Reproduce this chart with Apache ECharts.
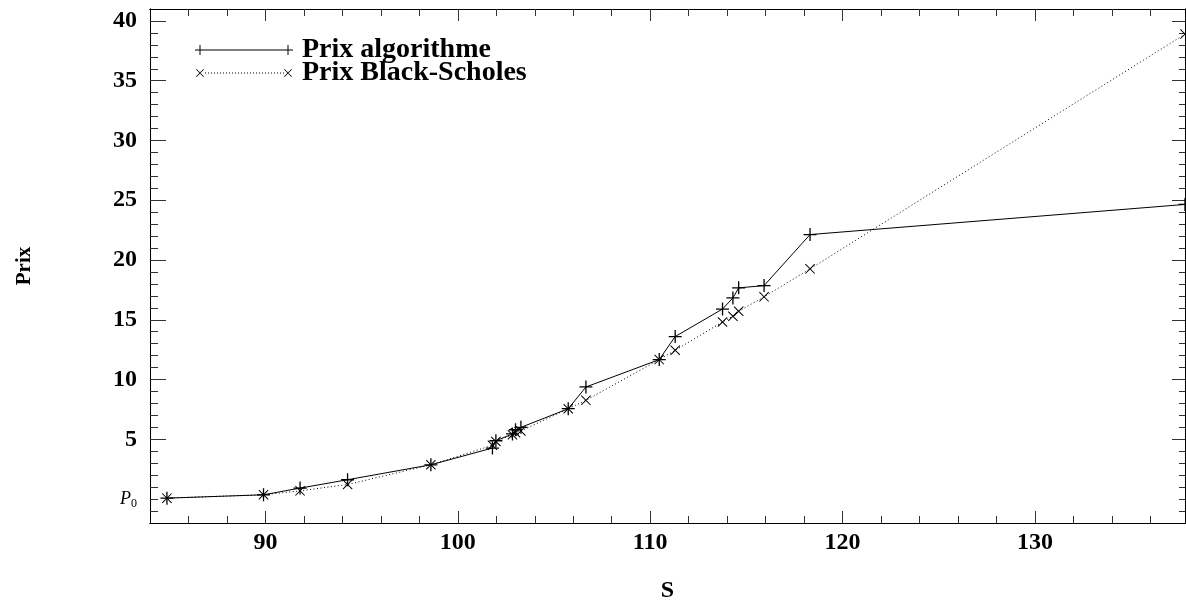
<!DOCTYPE html>
<html>
<head>
<meta charset="utf-8">
<script src="https://cdn.jsdelivr.net/npm/echarts@6/dist/echarts.min.js"></script>
<style>
html,body{margin:0;padding:0;background:#fff;}
#chart{width:1186px;height:602px;}
</style>
</head>
<body>
<div id="chart"></div>
<script>
// ---- data ----
var sValues = [84.88, 89.9, 91.8, 94.27, 98.6, 101.8, 101.98, 102.84, 103.0, 103.28, 105.74, 106.66, 110.47, 111.3, 113.76, 114.3, 114.6, 115.92, 118.31, 137.8];
var prixAlgorithme = [0.08, 0.36, 0.92, 1.62, 2.87, 4.27, 4.88, 5.45, 5.8, 6.0, 7.56, 9.38, 11.67, 13.6, 15.9, 16.83, 17.67, 17.86, 22.13, 24.65];
var prixBlackScholes = [0.08, 0.36, 0.69, 1.22, 2.87, 4.5, 4.82, 5.38, 5.55, 5.7, 7.56, 8.26, 11.67, 12.45, 14.82, 15.3, 15.71, 16.92, 19.26, 38.9];
var seriesNames = ['Prix algorithme', 'Prix Black-Scholes'];
var xMajorTicks = [90, 100, 110, 120, 130];
var xMinorTicks = [86, 88, 92, 94, 96, 98, 102, 104, 106, 108, 112, 114, 116, 118, 122, 124, 126, 128, 132, 134, 136];
var yMajorTicks = [5, 10, 15, 20, 25, 30, 35, 40];
var yLabelTicks = [0, 5, 10, 15, 20, 25, 30, 35, 40];
var yMinorTicks = [-1, 0, 1, 2, 3, 4, 6, 7, 8, 9, 11, 12, 13, 14, 16, 17, 18, 19, 21, 22, 23, 24, 26, 27, 28, 29, 31, 32, 33, 34, 36, 37, 38, 39];
var xName = 'S';
var yName = 'Prix';
var xMin = 84, xMax = 137.8, yMin = -2, yMax = 41;

function zip(a, b) { return a.map(function (v, i) { return [v, b[i]]; }); }

var FONT = 'Liberation Serif';
var plusPath = 'path://M0 4.5H10V5.5H0Z M4.5 0H5.5V10H4.5Z';
var crossPath = 'path://M0.7 0L10 9.3L9.3 10L0 0.7Z M9.3 0L10 0.7L0.7 10L0 9.3Z';

// legend icons (line with a marker at each end)
var legendIcon1 = 'path://M5 4.5H93V5.5H5Z M0 4.5H10V5.5H0Z M4.5 0H5.5V10H4.5Z M88 4.5H98V5.5H88Z M92.5 0H93.5V10H92.5Z';
var dots = '';
for (var d = 10; d < 89; d += 3) { dots += ' M' + d + ' 4.5H' + (d + 1) + 'V5.5H' + d + 'Z'; }
var legendIcon2 = 'path://M1 1.6L1.6 1L9 8.4L8.4 9Z M8.4 1L9 1.6L1.6 9L1 8.4Z M89 1.6L89.6 1L97 8.4L96.4 9Z M96.4 1L97 1.6L89.6 9L89 8.4Z M0 0H0.01V0.01H0Z M97.99 9.99H98V10H97.99Z' + dots;

var tickColor = '#333';
function xAxisDef(pos, ticks, len, labels) {
  return {
    type: 'value', position: pos, min: xMin, max: xMax,
    axisLine: { show: true, onZero: false, lineStyle: { color: '#000', width: 1 } },
    axisTick: { show: true, inside: true, length: len, customValues: ticks, lineStyle: { color: tickColor, width: 1 } },
    axisLabel: labels ? { show: true, customValues: xMajorTicks, margin: 8, color: '#000', fontFamily: FONT, fontWeight: 'bold', fontSize: 24 } : { show: false },
    splitLine: { show: false },
    name: labels ? xName : '', nameLocation: 'middle', nameGap: 56,
    nameTextStyle: { color: '#000', fontFamily: FONT, fontWeight: 'bold', fontSize: 24 }
  };
}
function yAxisDef(pos, ticks, len, labels) {
  return {
    type: 'value', position: pos, min: yMin, max: yMax,
    axisLine: { show: true, onZero: false, lineStyle: { color: '#000', width: 1 } },
    axisTick: { show: true, inside: true, length: len, customValues: ticks, lineStyle: { color: tickColor, width: 1 } },
    axisLabel: labels ? {
      show: true, customValues: yLabelTicks, margin: 13, color: '#000', fontFamily: FONT, fontWeight: 'bold', fontSize: 24,
      formatter: function (v) { return v === 0 ? '{p|P}{s|0}' : String(v); },
      rich: {
        p: { fontFamily: FONT, fontStyle: 'italic', fontWeight: 'normal', fontSize: 18, color: '#000' },
        s: { fontFamily: FONT, fontWeight: 'normal', fontSize: 12, color: '#000', padding: [9, 0, 0, 0] }
      }
    } : { show: false },
    splitLine: { show: false },
    name: labels ? yName : '', nameLocation: 'middle', nameGap: 115, nameRotate: 90,
    nameTextStyle: { color: '#000', fontFamily: FONT, fontWeight: 'bold', fontSize: 21 }
  };
}

var chart = echarts.init(document.getElementById('chart'), null, { renderer: 'canvas' });
chart.setOption({
  animation: false,
  backgroundColor: '#fff',
  grid: { left: 150, right: 1, top: 9, bottom: 79, containLabel: false, outerBoundsMode: 'none' },
  xAxis: [
    xAxisDef('bottom', xMajorTicks, 12, true),
    xAxisDef('bottom', xMinorTicks, 7, false),
    xAxisDef('top', xMajorTicks, 12, false),
    xAxisDef('top', xMinorTicks, 7, false)
  ],
  yAxis: [
    yAxisDef('left', yMajorTicks, 16, true),
    yAxisDef('left', yMinorTicks, 8, false),
    yAxisDef('right', yMajorTicks, 13, false),
    yAxisDef('right', yMinorTicks, 6, false)
  ],
  legend: {
    orient: 'vertical', left: 190, top: 31, itemWidth: 98, itemHeight: 10, itemGap: -5,
    textStyle: { color: '#000', fontFamily: FONT, fontWeight: 'bold', fontSize: 28, padding: [0, 0, 0, 4] },
    data: [
      { name: seriesNames[0], icon: legendIcon1, itemStyle: { color: '#000' } },
      { name: seriesNames[1], icon: legendIcon2, itemStyle: { color: '#000' } }
    ],
    selectedMode: false
  },
  series: [
    {
      name: seriesNames[0], type: 'line', xAxisIndex: 0, yAxisIndex: 0,
      data: zip(sValues, prixAlgorithme),
      symbol: plusPath, symbolSize: 13, showAllSymbol: true,
      itemStyle: { color: '#000' },
      lineStyle: { color: '#000', width: 1, type: 'solid' },
      clip: true, z: 3
    },
    {
      name: seriesNames[1], type: 'line', xAxisIndex: 0, yAxisIndex: 0,
      data: zip(sValues, prixBlackScholes),
      symbol: crossPath, symbolSize: 10, showAllSymbol: true,
      itemStyle: { color: '#000' },
      lineStyle: { color: '#000', width: 1, type: [1, 2.5] },
      clip: true, z: 2
    }
  ]
});
</script>
</body>
</html>
